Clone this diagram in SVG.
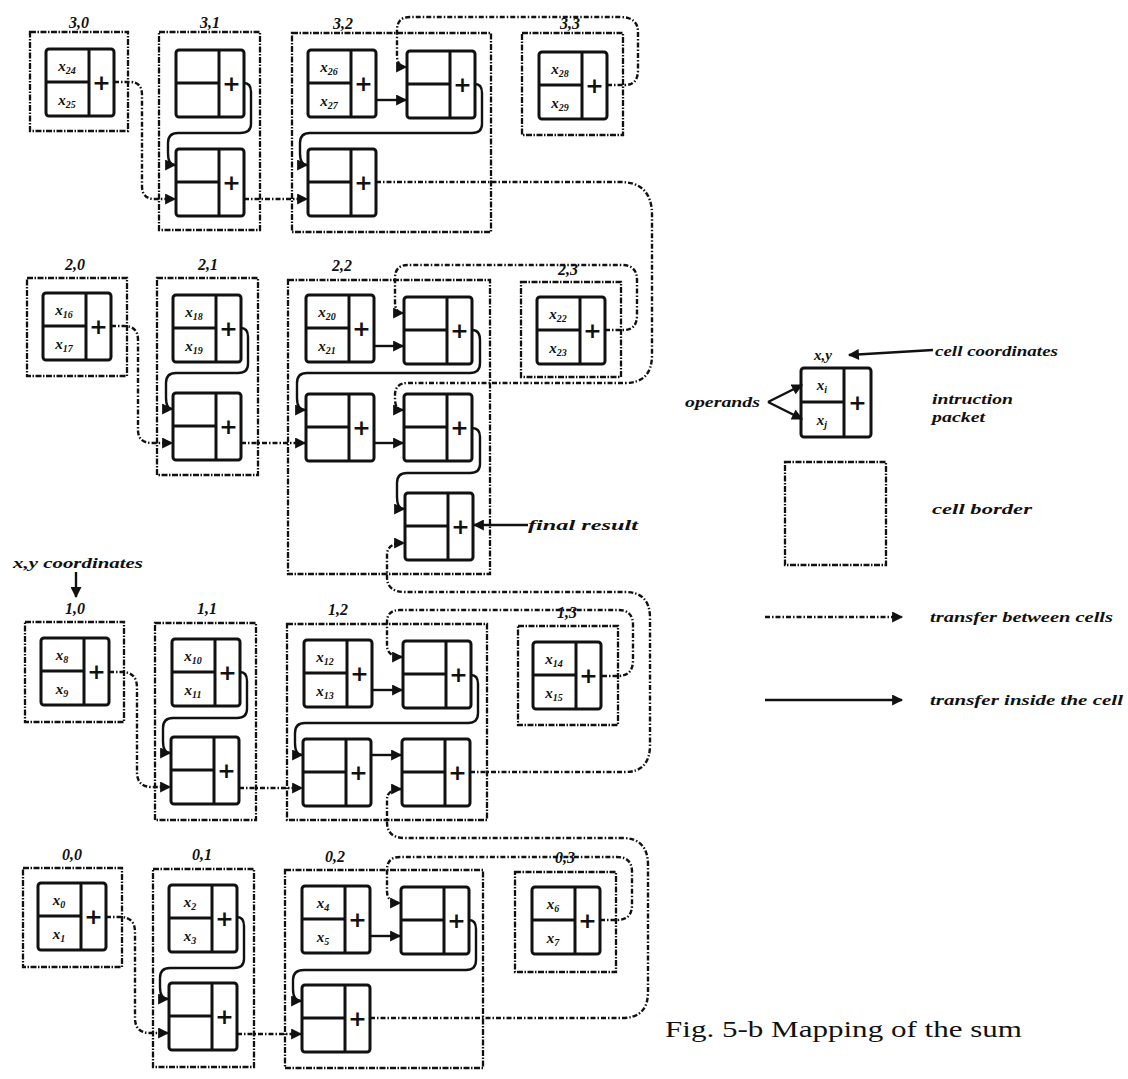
<svg xmlns="http://www.w3.org/2000/svg" xmlns:xlink="http://www.w3.org/1999/xlink" width="1128" height="1079" viewBox="0 0 1128 1079">
<style>
.cell{fill:none;stroke:#111;stroke-width:2.3;stroke-dasharray:6 1.5 1.5 1.5}
.pk{fill:none;stroke:#111;stroke-width:3}
.plus{font-family:"DejaVu Sans",sans-serif;font-weight:bold;font-size:22px;text-anchor:middle;fill:#111}
.lab{font-family:"Liberation Serif",serif;font-style:italic;font-weight:bold;font-size:16px;text-anchor:middle;fill:#111}
.op{font-family:"Liberation Serif",serif;font-style:italic;font-weight:bold;font-size:15px;text-anchor:middle;fill:#111}
.sub{font-size:10px}
.note{font-family:"Liberation Serif",serif;font-style:italic;font-weight:bold;font-size:14px;fill:#111}
.cap{font-family:"Liberation Serif",serif;font-size:23px;fill:#111}
.sol{fill:none;stroke:#111;stroke-width:2.4}
.dsh{fill:none;stroke:#111;stroke-width:2.4;stroke-dasharray:5 2 1.5 2}
</style>
<defs>
<marker id="ah" viewBox="0 0 10 10" refX="9" refY="5" markerWidth="12" markerHeight="11" markerUnits="userSpaceOnUse" orient="auto"><path d="M0,0 L10,5 L0,10 z" fill="#111"/></marker>
<g id="pkt"><rect class="pk" x="0" y="0" width="68" height="67" rx="3"/><line class="pk" x1="43" y1="0" x2="43" y2="67"/><line class="pk" x1="0" y1="33" x2="43" y2="33"/></g>
</defs>
<rect x="0" y="0" width="1128" height="1079" fill="#fff"/>

<!-- Row 3 -->
<g id="cell30"><rect class="cell" x="30" y="32" width="98" height="99"/><text class="lab" x="79" y="28">3,0</text>
<g id="p30"><use xlink:href="#pkt" x="46" y="49"/><text class="op" x="67" y="71">x<tspan class="sub" dy="3">24</tspan></text><text class="op" x="67" y="105">x<tspan class="sub" dy="3">25</tspan></text><text class="plus" x="101.5" y="90">+</text></g></g>
<g id="cell31"><rect class="cell" x="159" y="32" width="101" height="198"/><text class="lab" x="210" y="28">3,1</text>
<g id="p31a"><use xlink:href="#pkt" x="176" y="50"/><text class="plus" x="231.5" y="91">+</text></g>
<g id="p31b"><use xlink:href="#pkt" x="176" y="149"/><text class="plus" x="231.5" y="190">+</text></g></g>
<g id="cell32"><rect class="cell" x="292" y="33" width="199" height="199"/><text class="lab" x="343" y="29">3,2</text>
<g id="p32a"><use xlink:href="#pkt" x="308" y="50"/><text class="op" x="329" y="72">x<tspan class="sub" dy="3">26</tspan></text><text class="op" x="329" y="106">x<tspan class="sub" dy="3">27</tspan></text><text class="plus" x="363.5" y="91">+</text></g>
<g id="p32b"><use xlink:href="#pkt" x="407" y="51"/><text class="plus" x="462.5" y="92">+</text></g>
<g id="p32c"><use xlink:href="#pkt" x="308" y="149"/><text class="plus" x="363.5" y="190">+</text></g></g>
<g id="cell33"><rect class="cell" x="522" y="33" width="101" height="102"/><text class="lab" x="570" y="29">3,3</text>
<g id="p33"><use xlink:href="#pkt" x="539" y="52"/><text class="op" x="560" y="74">x<tspan class="sub" dy="3">28</tspan></text><text class="op" x="560" y="108">x<tspan class="sub" dy="3">29</tspan></text><text class="plus" x="594.5" y="93">+</text></g></g>

<!-- Row 2 -->
<g id="cell20"><rect class="cell" x="27" y="278" width="100" height="98"/><text class="lab" x="75" y="270">2,0</text>
<g id="p20"><use xlink:href="#pkt" x="43" y="293"/><text class="op" x="64" y="315">x<tspan class="sub" dy="3">16</tspan></text><text class="op" x="64" y="349">x<tspan class="sub" dy="3">17</tspan></text><text class="plus" x="98.5" y="334">+</text></g></g>
<g id="cell21"><rect class="cell" x="157" y="278" width="101" height="197"/><text class="lab" x="208" y="270">2,1</text>
<g id="p21a"><use xlink:href="#pkt" x="173" y="295"/><text class="op" x="194" y="317">x<tspan class="sub" dy="3">18</tspan></text><text class="op" x="194" y="351">x<tspan class="sub" dy="3">19</tspan></text><text class="plus" x="228.5" y="336">+</text></g>
<g id="p21b"><use xlink:href="#pkt" x="173" y="393"/><text class="plus" x="228.5" y="434">+</text></g></g>
<g id="cell22"><rect class="cell" x="288" y="280" width="202" height="294"/><text class="lab" x="342" y="271">2,2</text>
<g id="p22a"><use xlink:href="#pkt" x="306" y="295"/><text class="op" x="327" y="317">x<tspan class="sub" dy="3">20</tspan></text><text class="op" x="327" y="351">x<tspan class="sub" dy="3">21</tspan></text><text class="plus" x="361.5" y="336">+</text></g>
<g id="p22b"><use xlink:href="#pkt" x="404" y="297"/><text class="plus" x="459.5" y="338">+</text></g>
<g id="p22c"><use xlink:href="#pkt" x="306" y="394"/><text class="plus" x="361.5" y="435">+</text></g>
<g id="p22d"><use xlink:href="#pkt" x="404" y="394"/><text class="plus" x="459.5" y="435">+</text></g>
<g id="p22e"><use xlink:href="#pkt" x="405" y="493"/><text class="plus" x="460.5" y="534">+</text></g></g>
<g id="cell23"><rect class="cell" x="521" y="282" width="100" height="95"/><text class="lab" x="568" y="275">2,3</text>
<g id="p23"><use xlink:href="#pkt" x="537" y="297"/><text class="op" x="558" y="319">x<tspan class="sub" dy="3">22</tspan></text><text class="op" x="558" y="353">x<tspan class="sub" dy="3">23</tspan></text><text class="plus" x="592.5" y="338">+</text></g></g>

<!-- Row 1 -->
<g id="cell10"><rect class="cell" x="25" y="622" width="99" height="100"/><text class="lab" x="75" y="614">1,0</text>
<g id="p10"><use xlink:href="#pkt" x="41" y="638"/><text class="op" x="62" y="660">x<tspan class="sub" dy="3">8</tspan></text><text class="op" x="62" y="694">x<tspan class="sub" dy="3">9</tspan></text><text class="plus" x="96.5" y="679">+</text></g></g>
<g id="cell11"><rect class="cell" x="155" y="623" width="101" height="197"/><text class="lab" x="207" y="614">1,1</text>
<g id="p11a"><use xlink:href="#pkt" x="172" y="639"/><text class="op" x="193" y="661">x<tspan class="sub" dy="3">10</tspan></text><text class="op" x="193" y="695">x<tspan class="sub" dy="3">11</tspan></text><text class="plus" x="227.5" y="680">+</text></g>
<g id="p11b"><use xlink:href="#pkt" x="171" y="737"/><text class="plus" x="226.5" y="778">+</text></g></g>
<g id="cell12"><rect class="cell" x="287" y="624" width="200" height="196"/><text class="lab" x="338" y="615">1,2</text>
<g id="p12a"><use xlink:href="#pkt" x="304" y="640"/><text class="op" x="325" y="662">x<tspan class="sub" dy="3">12</tspan></text><text class="op" x="325" y="696">x<tspan class="sub" dy="3">13</tspan></text><text class="plus" x="359.5" y="681">+</text></g>
<g id="p12b"><use xlink:href="#pkt" x="403" y="641"/><text class="plus" x="458.5" y="682">+</text></g>
<g id="p12c"><use xlink:href="#pkt" x="303" y="739"/><text class="plus" x="358.5" y="780">+</text></g>
<g id="p12d"><use xlink:href="#pkt" x="402" y="739"/><text class="plus" x="457.5" y="780">+</text></g></g>
<g id="cell13"><rect class="cell" x="518" y="626" width="100" height="99"/><text class="lab" x="567" y="618">1,3</text>
<g id="p13"><use xlink:href="#pkt" x="533" y="642"/><text class="op" x="554" y="664">x<tspan class="sub" dy="3">14</tspan></text><text class="op" x="554" y="698">x<tspan class="sub" dy="3">15</tspan></text><text class="plus" x="588.5" y="683">+</text></g></g>

<!-- Row 0 -->
<g id="cell00"><rect class="cell" x="23" y="868" width="99" height="99"/><text class="lab" x="72" y="860">0,0</text>
<g id="p00"><use xlink:href="#pkt" x="38" y="883"/><text class="op" x="59" y="905">x<tspan class="sub" dy="3">0</tspan></text><text class="op" x="59" y="939">x<tspan class="sub" dy="3">1</tspan></text><text class="plus" x="93.5" y="924">+</text></g></g>
<g id="cell01"><rect class="cell" x="153" y="869" width="101" height="198"/><text class="lab" x="202" y="860">0,1</text>
<g id="p01a"><use xlink:href="#pkt" x="169" y="885"/><text class="op" x="190" y="907">x<tspan class="sub" dy="3">2</tspan></text><text class="op" x="190" y="941">x<tspan class="sub" dy="3">3</tspan></text><text class="plus" x="224.5" y="926">+</text></g>
<g id="p01b"><use xlink:href="#pkt" x="169" y="983"/><text class="plus" x="224.5" y="1024">+</text></g></g>
<g id="cell02"><rect class="cell" x="285" y="870" width="198" height="198"/><text class="lab" x="335" y="862">0,2</text>
<g id="p02a"><use xlink:href="#pkt" x="302" y="886"/><text class="op" x="323" y="908">x<tspan class="sub" dy="3">4</tspan></text><text class="op" x="323" y="942">x<tspan class="sub" dy="3">5</tspan></text><text class="plus" x="357.5" y="927">+</text></g>
<g id="p02b"><use xlink:href="#pkt" x="401" y="887"/><text class="plus" x="456.5" y="928">+</text></g>
<g id="p02c"><use xlink:href="#pkt" x="302" y="985"/><text class="plus" x="357.5" y="1026">+</text></g></g>
<g id="cell03"><rect class="cell" x="515" y="872" width="101" height="100"/><text class="lab" x="565" y="863">0,3</text>
<g id="p03"><use xlink:href="#pkt" x="532" y="887"/><text class="op" x="553" y="909">x<tspan class="sub" dy="3">6</tspan></text><text class="op" x="553" y="943">x<tspan class="sub" dy="3">7</tspan></text><text class="plus" x="587.5" y="928">+</text></g></g>

<!-- Connectors -->
<g id="connectors">
<!-- row 3 -->
<path class="dsh" marker-end="url(#ah)" d="M114,82 L130,82 Q142,82 142,95 L142,186 Q142,199 155,199 L175,199"/>
<path class="sol" marker-end="url(#ah)" d="M244,83 Q251,83 251,92 L251,124 Q251,133 240,133 L178,133 Q168,133 168,143 L168,153 Q168,165 175,165"/>
<path class="dsh" marker-end="url(#ah)" d="M244,199 L307,199"/>
<path class="sol" marker-end="url(#ah)" d="M376,100 L406,100"/>
<path class="dsh" marker-end="url(#ah)" d="M607,85 L625,85 Q638,85 638,70 L638,32 Q638,17 620,17 L410,17 Q397,17 397,30 L397,55 Q397,67 406,67"/>
<path class="sol" marker-end="url(#ah)" d="M475,84 Q482,84 482,93 L482,124 Q482,133 472,133 L310,133 Q300,133 300,143 L300,153 Q300,165 307,165"/>
<path class="dsh" marker-end="url(#ah)" d="M376,182 L620,182 Q652,182 652,215 L652,355 Q652,383 625,383 L408,383 Q395,383 395,395 L395,399 Q395,410 403,410"/>
<!-- row 2 -->
<path class="dsh" marker-end="url(#ah)" d="M111,326 L124,326 Q138,326 138,340 L138,430 Q138,443 152,443 L172,443"/>
<path class="sol" marker-end="url(#ah)" d="M241,328 Q248,328 248,337 L248,364 Q248,373 238,373 L176,373 Q166,373 166,383 L166,397 Q166,409 172,409"/>
<path class="dsh" marker-end="url(#ah)" d="M241,443 L305,443"/>
<path class="sol" marker-end="url(#ah)" d="M374,346 L403,346"/>
<path class="dsh" marker-end="url(#ah)" d="M605,330 L624,330 Q637,330 637,315 L637,280 Q637,265 622,265 L408,265 Q395,265 395,278 L395,302 Q395,313 403,313"/>
<path class="sol" marker-end="url(#ah)" d="M472,330 Q480,330 480,340 L480,363 Q480,373 470,373 L307,373 Q297,373 297,383 L297,398 Q297,410 305,410"/>
<path class="sol" marker-end="url(#ah)" d="M374,443 L403,443"/>
<path class="sol" marker-end="url(#ah)" d="M472,428 Q480,428 480,437 L480,464 Q480,473 470,473 L407,473 Q397,473 397,483 L397,497 Q397,509 404,509"/>
<path class="dsh" marker-end="url(#ah)" d="M470,772 L625,772 Q650,772 650,745 L650,618 Q650,592 625,592 L405,592 Q387,592 387,577 L387,555 Q387,543 404,543"/>
<path class="sol" marker-end="url(#ah)" d="M528,525 L474,525"/>
<!-- row 1 -->
<path class="dsh" marker-end="url(#ah)" d="M109,672 L122,672 Q137,672 137,688 L137,772 Q137,787 152,787 L170,787"/>
<path class="sol" marker-end="url(#ah)" d="M240,672 Q247,672 247,681 L247,709 Q247,718 237,718 L173,718 Q163,718 163,728 L163,741 Q163,753 170,753"/>
<path class="dsh" marker-end="url(#ah)" d="M239,788 L302,788"/>
<path class="sol" marker-end="url(#ah)" d="M372,690 L402,690"/>
<path class="dsh" marker-end="url(#ah)" d="M602,676 L618,676 Q633,676 633,660 L633,625 Q633,610 618,610 L400,610 Q387,610 387,622 L387,645 Q387,657 402,657"/>
<path class="sol" marker-end="url(#ah)" d="M471,675 Q478,675 478,684 L478,713 Q478,723 468,723 L305,723 Q295,723 295,733 L295,743 Q295,755 302,755"/>
<path class="sol" marker-end="url(#ah)" d="M371,755 L401,755"/>
<path class="dsh" marker-end="url(#ah)" d="M370,1018 L622,1018 Q648,1018 648,992 L648,865 Q648,838 622,838 L405,838 Q387,838 387,822 L387,800 Q387,789 401,789"/>
<!-- row 0 -->
<path class="dsh" marker-end="url(#ah)" d="M106,917 L120,917 Q135,917 135,932 L135,1018 Q135,1033 150,1033 L168,1033"/>
<path class="sol" marker-end="url(#ah)" d="M237,917 Q244,917 244,926 L244,959 Q244,968 234,968 L170,968 Q160,968 160,978 L160,987 Q160,999 168,999"/>
<path class="dsh" marker-end="url(#ah)" d="M237,1034 L301,1034"/>
<path class="sol" marker-end="url(#ah)" d="M370,936 L400,936"/>
<path class="dsh" marker-end="url(#ah)" d="M600,920 L617,920 Q632,920 632,905 L632,872 Q632,857 617,857 L400,857 Q387,857 387,870 L387,891 Q387,903 400,903"/>
<path class="sol" marker-end="url(#ah)" d="M469,920 Q476,920 476,929 L476,960 Q476,970 466,970 L304,970 Q293,970 293,980 L293,989 Q293,1001 301,1001"/>
<!-- coordinates note -->
<path class="sol" marker-end="url(#ah)" d="M76,572 L76,597"/>
</g>

<!-- annotations -->
<text class="note" x="528" y="530" textLength="110" lengthAdjust="spacingAndGlyphs">final result</text>
<text class="note" x="13" y="568" textLength="130" lengthAdjust="spacingAndGlyphs">x,y coordinates</text>

<!-- Legend -->
<g id="legend">
<text class="op" x="823" y="360">x,y</text>
<path class="sol" marker-end="url(#ah)" d="M933,350 L849,355"/>
<text class="note" x="935" y="356" textLength="123" lengthAdjust="spacingAndGlyphs">cell coordinates</text>
<g id="legend-packet">
<rect class="pk" x="801" y="368" width="70" height="69" rx="3"/>
<line class="pk" x1="844" y1="368" x2="844" y2="437"/>
<line class="pk" x1="801" y1="402" x2="844" y2="402"/>
<text class="op" x="822" y="390">x<tspan class="sub" dy="3">i</tspan></text>
<text class="op" x="822" y="425">x<tspan class="sub" dy="3">j</tspan></text>
<text class="plus" x="857.5" y="410">+</text>
</g>
<text class="note" x="685" y="407" textLength="75" lengthAdjust="spacingAndGlyphs">operands</text>
<path class="sol" marker-end="url(#ah)" d="M768,402 L802,385"/>
<path class="sol" marker-end="url(#ah)" d="M768,402 L802,419"/>
<text class="note" x="932" y="404" textLength="81" lengthAdjust="spacingAndGlyphs">intruction</text>
<text class="note" x="932" y="422" textLength="53" lengthAdjust="spacingAndGlyphs">packet</text>
<rect class="cell" x="785" y="462" width="101" height="103"/>
<text class="note" x="932" y="514" textLength="100" lengthAdjust="spacingAndGlyphs">cell border</text>
<path class="dsh" marker-end="url(#ah)" d="M765,617 L902,617"/>
<text class="note" x="930" y="622" textLength="183" lengthAdjust="spacingAndGlyphs">transfer between cells</text>
<path class="sol" marker-end="url(#ah)" d="M765,700 L902,700"/>
<text class="note" x="930" y="705" textLength="193" lengthAdjust="spacingAndGlyphs">transfer inside the cell</text>
</g>

<text class="cap" x="665" y="1037" textLength="357" lengthAdjust="spacingAndGlyphs">Fig. 5-b Mapping of the sum</text>
</svg>
